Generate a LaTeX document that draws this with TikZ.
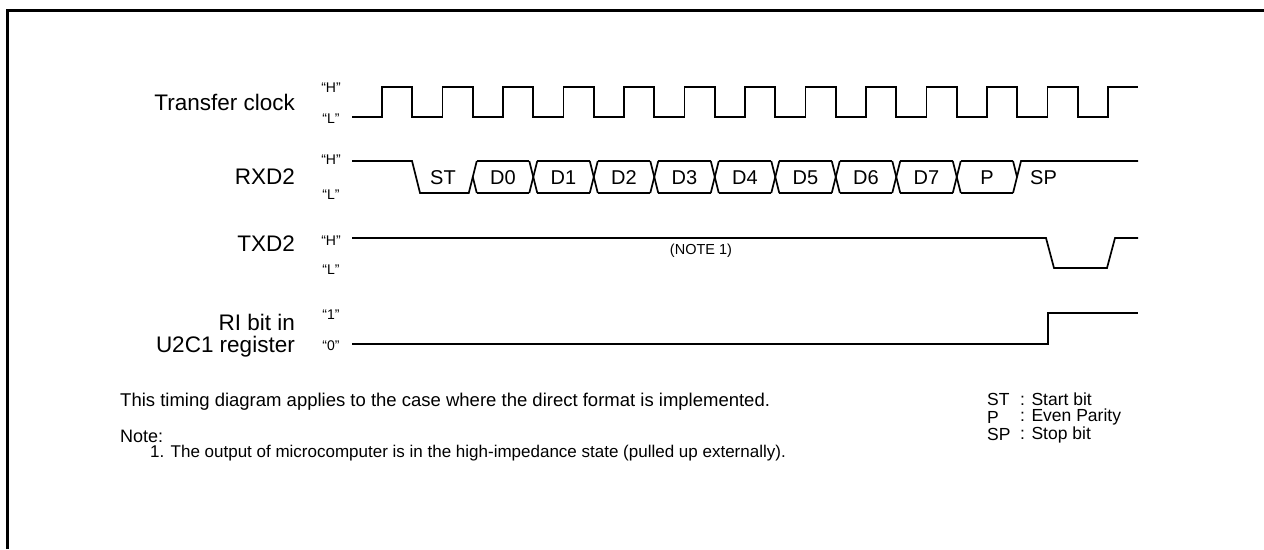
\documentclass[tikz,border=0pt]{standalone}
\usepackage{fontspec}
\setmainfont{Liberation Sans}
\begin{document}
\begin{tikzpicture}[x=1pt,y=-1pt,
  sig/.style={line width=1.7pt, line join=miter},
  lbl/.style={anchor=east, inner sep=0pt, font=\fontsize{22.5}{22}\selectfont},
  lvl/.style={inner sep=0pt, font=\fontsize{14}{14}\selectfont},
  cell/.style={inner sep=0pt, font=\fontsize{20}{20}\selectfont},
  txt/.style={anchor=west, inner sep=0pt, font=\fontsize{18.5}{19}\selectfont},
  key/.style={anchor=west, inner sep=0pt, font=\fontsize{17.5}{16}\selectfont}]
\useasboundingbox (0,0) rectangle (1264,549);
\fill[white] (0,0) rectangle (1264,549);
% frame
\draw[line width=3pt] (7,549) -- (7,10) -- (1264,10);

% labels
\node[lbl] (lclk) at (295,102) {Transfer clock};
\node[lbl] (lrxd) at (295,177) {RXD2};
\node[lbl] (ltxd) at (295,244) {TXD2};
\node[lbl, align=right] (lri) at (295,336) {RI bit in\\U2C1 register};

\node[lvl] (ch) at (331,88) {“H”};
\node[lvl] (cl) at (331,119) {“L”};
\node[lvl] (rh) at (331,160) {“H”};
\node[lvl] (rl) at (331,195) {“L”};
\node[lvl] (th) at (331,241) {“H”};
\node[lvl] (tl) at (331,270) {“L”};
\node[lvl] (r1) at (331,315) {“1”};
\node[lvl] (r0) at (331,346) {“0”};

% transfer clock
\draw[sig] (352,117) foreach \k in {0,...,11} {
  -- ({382+60.5*\k},117) -- ({382+60.5*\k},87)
  -- ({412.25+60.5*\k},87) -- ({412.25+60.5*\k},117) }
  -- (1108,117) -- (1108,87) -- (1138,87);

% RXD2
\def\H{161}\def\L{193}\def\M{177}
\draw[sig] (352,\H) -- (412,\H) -- (420,\L) -- (468.75,\L) -- (476.75,\H);
\draw[sig] (472.75,\M) -- (476.75,\L);
\foreach \k in {1,...,9} {
  \pgfmathsetmacro{\a}{412.25+60.5*\k+4}
  \pgfmathsetmacro{\b}{412.25+60.5*(\k+1)-4}
  \draw[sig] (\a,\H) -- (\b,\H);
  \draw[sig] (\a,\L) -- (\b,\L);
}
\foreach \k in {2,...,9} {
  \pgfmathsetmacro{\f}{412.25+60.5*\k}
  \draw[sig] ({\f-4},\H) -- ({\f+4},\L);
  \draw[sig] ({\f-4},\L) -- ({\f+4},\H);
}
\draw[sig] (1013,\H) -- (1017,\M);
\draw[sig] (1013,\L) -- (1021,\H) -- (1138,\H);

\node[cell] (st) at (443,178) {ST};
\foreach \n [count=\k] in {D0,D1,D2,D3,D4,D5,D6,D7,P} {
  \node[cell] (c\k) at ({412.25+60.5*\k+30.25},178) {\n};
}
\node[cell, anchor=west] (sp) at (1030,178) {SP};

% TXD2
\draw[sig] (352,238) -- (1046,238) -- (1054,268) -- (1107,268) -- (1115,238) -- (1138,238);
\node[inner sep=0pt, font=\fontsize{14.5}{15}\selectfont] (n1) at (701,251) {(NOTE 1)};

% RI bit
\draw[sig] (352,344) -- (1048,344) -- (1048,313) -- (1138,313);

% texts
\node[txt] (cap) at (120,402) {This timing diagram applies to the case where the direct format is implemented.};
\node[txt, font=\fontsize{18}{19}\selectfont] (note) at (120,436) {Note:};
\node[txt, font=\fontsize{17}{19}\selectfont] (note1) at (150,453) {1. The output of microcomputer is in the high-impedance state (pulled up externally).};

\node[key] (k1) at (987,399.5) {ST};
\node[key] (k2) at (987,417) {P};
\node[key] (k3) at (987,434.5) {SP};
\node[key] (v1) at (1020,399.5) {: Start bit};
\node[key] (v2) at (1020,417) {: Even Parity};
\node[key] (v3) at (1020,434.5) {: Stop bit};
\end{tikzpicture}
\end{document}
